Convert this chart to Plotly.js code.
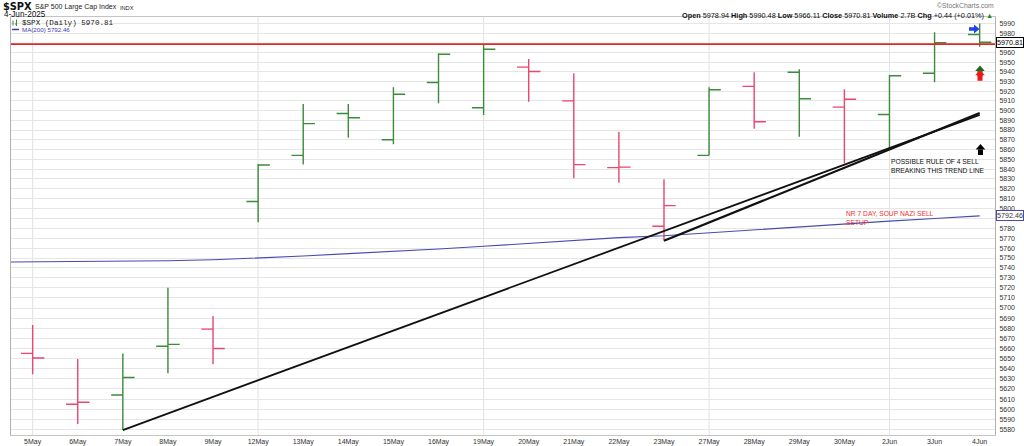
<!DOCTYPE html>
<html>
<head>
<meta charset="utf-8">
<script src="https://cdn.plot.ly/plotly-3.0.1.min.js"></script>
<style>html,body{margin:0;padding:0;background:#fff;}#chart{width:1024px;height:446px;}</style>
</head>
<body>
<div id="chart"></div>
<script>
// ---- data ----
const dates = ['5May','6May','7May','8May','9May','12May','13May','14May','15May','16May','19May','20May','21May','22May','23May','27May','28May','29May','30May','2Jun','3Jun','4Jun'];
const open  = [5655, 5605, 5614, 5662, 5679, 5807, 5854, 5897, 5870, 5929, 5903, 5945, 5910, 5841.5, 5782, 5854, 5925, 5939.6, 5903.6, 5896, 5938.6, 5978.94];
const high  = [5683, 5649.5, 5655, 5720.1, 5692, 5845.2, 5906.8, 5906.8, 5924.1, 5959.3, 5968.61, 5953.4, 5938.6, 5878.3, 5829.6, 5924.1, 5939.6, 5942.7, 5922, 5936.8, 5981.2, 5990.48];
const low   = [5634.4, 5585.7, 5579.8, 5635.4, 5644.2, 5786, 5844.8, 5872.1, 5865.4, 5907.5, 5895.5, 5909.2, 5830.6, 5826.1, 5767.4, 5854.1, 5881.4, 5873.2, 5846, 5861, 5929.2, 5966.11];
const close = [5650.38, 5606.91, 5631.28, 5663.94, 5659.91, 5844.19, 5886.55, 5892.58, 5916.93, 5958.38, 5963.6, 5940.46, 5844.61, 5842.01, 5802.82, 5921.54, 5888.55, 5912.17, 5911.69, 5935.94, 5970.37, 5970.81];
// MA(200): first value is the session before 5May (2May)
const maDates = ['2May'].concat(dates);
const ma200 = [5745.8, 5746.0, 5746.3, 5746.8, 5747.3, 5748.2, 5749.8, 5752.0, 5754.4, 5756.6, 5759.0, 5761.8, 5764.6, 5768.0, 5770.5, 5772.4, 5775.5, 5778.4, 5781.4, 5784.4, 5787.2, 5789.9, 5792.46];
const weekStarts = ['5May','12May','19May','27May','2Jun'];
const resistanceLevel = 5969;
const trendADates = ['7May','4Jun'], trendAValues = [5579.8, 5895.5];
const trendBDates = ['23May','4Jun'], trendBValues = [5767.4, 5897.5];
const yTicks = []; for (let v = 5580; v <= 5990; v += 10) yTicks.push(v);
const volumeText = '2.7B';

// ---- helpers ----
const xi = d => d === '2May' ? -1 : dates.indexOf(d);
const idx = dates.map((d, i) => i);
const last = dates.length - 1;
const up = close.map((c, i) => i === 0 ? c >= open[0] : c >= close[i - 1]);
const GREEN = '#3b8b3b', RED = '#e8476f';
function sub(arr, flag) { return arr.filter((_, i) => up[i] === flag); }
function ohlcTrace(flag, color) {
  return {
    type: 'ohlc', x: sub(idx, flag), open: sub(open, flag), high: sub(high, flag), low: sub(low, flag), close: sub(close, flag),
    increasing: {line: {color: color, width: 1.4}}, decreasing: {line: {color: color, width: 1.4}},
    tickwidth: 0.26, hoverinfo: 'skip', showlegend: false
  };
}
const traces = [
  {type: 'scatter', mode: 'lines', x: maDates.map(xi), y: ma200, line: {color: '#4a4aae', width: 1.1}, hoverinfo: 'skip'},
  ohlcTrace(true, GREEN),
  ohlcTrace(false, RED),
  {type: 'scatter', mode: 'lines', x: [-2, 23], y: [resistanceLevel, resistanceLevel], line: {color: '#e32626', width: 1.8}, hoverinfo: 'skip'},
  {type: 'scatter', mode: 'lines', x: trendADates.map(xi), y: trendAValues, line: {color: '#111', width: 1.8}, hoverinfo: 'skip'},
  {type: 'scatter', mode: 'lines', x: trendBDates.map(xi), y: trendBValues, line: {color: '#111', width: 2.2}, hoverinfo: 'skip'}
];

// pixel -> paper helpers for decorations
const PL = 11, PR = 995, PT = 17, PB = 435;
const px = x => (x - PL) / (PR - PL);
const py = y => (PB - y) / (PB - PT);
function path(pts, color) {
  return {type: 'path', xref: 'paper', yref: 'paper', layer: 'above',
    path: 'M ' + pts.map(p => px(p[0]).toFixed(5) + ',' + py(p[1]).toFixed(5)).join(' L ') + ' Z',
    fillcolor: color, line: {width: 0}};
}
function upArrow(cx, tipY, color, withShaft) {
  const s = [path([[cx, tipY], [cx + 4.8, tipY + 5.5], [cx - 4.8, tipY + 5.5]], color)];
  if (withShaft) s.push(path([[cx - 2.5, tipY + 5.4], [cx + 2.5, tipY + 5.4], [cx + 2.5, tipY + 11], [cx - 2.5, tipY + 11]], color));
  return s;
}
const shapes = [];
weekStarts.forEach(d => shapes.push({type: 'line', xref: 'x', yref: 'paper', x0: xi(d), x1: xi(d), y0: 0, y1: 1, line: {color: '#e2e2e2', width: 1}, layer: 'below'}));
// blue right arrow
shapes.push(path([[969, 27.3], [974, 27.3], [974, 24.5], [979.5, 29], [974, 33.5], [974, 30.7], [969, 30.7]], '#1f45e6'));
// green + red up arrows
upArrow(980, 65.5, '#1d6b1d', true).forEach(s => shapes.push(s));
upArrow(980, 69.8, '#f01818', true).forEach(s => shapes.push(s));
// black up arrow
upArrow(980.5, 144, '#000', true).forEach(s => shapes.push(s));
// legend glyphs
shapes.push({type: 'line', xref: 'paper', yref: 'paper', x0: px(12), x1: px(19), y0: py(29.5), y1: py(29.5), line: {color: '#3a3ab0', width: 1.5}});
shapes.push({type: 'line', xref: 'paper', yref: 'paper', x0: px(13), x1: px(13), y0: py(20.5), y1: py(25.5), line: {color: GREEN, width: 1}});
shapes.push({type: 'line', xref: 'paper', yref: 'paper', x0: px(16.5), x1: px(16.5), y0: py(19.5), y1: py(26), line: {color: GREEN, width: 1}});
shapes.push({type: 'line', xref: 'paper', yref: 'paper', x0: px(15), x1: px(16.5), y0: py(24), y1: py(24), line: {color: GREEN, width: 1}});

const F = 'Arial, Liberation Sans, sans-serif';
const chg = close[last] - close[last - 1];
const chgPct = chg / close[last - 1] * 100;
const ann = [];
function txt(x, y, text, size, color, anchor, extra) {
  ann.push(Object.assign({xref: 'paper', yref: 'paper', x: px(x), y: py(y), text: text, showarrow: false, align: 'left',
    xanchor: anchor || 'left', yanchor: 'middle', font: {family: F, size: size, color: color || '#000'}}, extra || {}));
}
txt(1, 6.5, '<b>$SPX</b>', 10, '#111', 'left', {font: {family: 'DejaVu Sans, sans-serif', size: 9.8, color: '#111'}});
txt(33, 7, 'S&amp;P 500 Large Cap Index', 7, '#222');
txt(118, 7.5, 'INDX', 5.6, '#222');
txt(2, 14.5, '4-Jun-2025', 8.2, '#111');
txt(20, 23, '$SPX (Daily) ' + close[last].toFixed(2), 7.4, '#222', 'left', {font: {family: 'Liberation Mono, DejaVu Sans Mono, monospace', size: 7.6, color: '#222'}});
txt(20, 29.5, 'MA(200) ' + ma200[ma200.length - 1].toFixed(2), 6.2, '#3a3ab0');
txt(996, 5.5, '©StockCharts.com', 6.8, '#777', 'right');
txt(995, 15, '<b>Open</b> ' + open[last].toFixed(2) + ' <b>High</b> ' + high[last].toFixed(2) + ' <b>Low</b> ' + low[last].toFixed(2) +
  ' <b>Close</b> ' + close[last].toFixed(2) + ' <b>Volume</b> ' + volumeText + ' <b>Chg</b> ' + (chg >= 0 ? '+' : '') + chg.toFixed(2) +
  ' (' + (chgPct >= 0 ? '+' : '') + chgPct.toFixed(2) + '%) <span style="color:#2a8a2a">▲</span>', 7.3, '#111', 'right');
// chart notes
txt(889, 166, 'POSSIBLE RULE OF 4 SELL<br>BREAKING THIS TREND LINE', 6.7, '#111');
txt(844, 217.5, 'NR 7 DAY, SOUP NAZI SELL<br>SETUP', 6.7, '#f03030');
// value boxes on the right axis
ann.push({xref: 'paper', yref: 'y', x: 1, y: Math.log10(close[last]), xanchor: 'left', yanchor: 'middle', xshift: 1,
  text: close[last].toFixed(2), showarrow: false, bgcolor: '#fff', bordercolor: '#000', borderwidth: 1, borderpad: 0,
  font: {family: F, size: 7.2, color: '#000'}});
ann.push({xref: 'paper', yref: 'y', x: 1, y: Math.log10(ma200[ma200.length - 1]), xanchor: 'left', yanchor: 'middle', xshift: 1,
  text: ma200[ma200.length - 1].toFixed(2), showarrow: false, bgcolor: '#fff', bordercolor: '#4a4aae', borderwidth: 1, borderpad: 0,
  font: {family: F, size: 7.2, color: '#333'}});

const hidden = [Math.round(close[last] / 10) * 10, Math.round(ma200[ma200.length - 1] / 10) * 10];
const layout = {
  width: 1024, height: 446,
  margin: {l: PL, r: 1024 - PR, t: PT, b: 446 - PB, pad: 0},
  paper_bgcolor: '#fff', plot_bgcolor: '#fff', showlegend: false,
  xaxis: {range: [-0.48, 21.34], tickvals: idx, ticktext: dates, showgrid: false, zeroline: false,
    showline: true, linecolor: '#c4c4c4', linewidth: 1, mirror: true, ticks: '', ticklabelstandoff: 0,
    tickfont: {family: F, size: 7, color: '#333'}, rangeslider: {visible: false}, fixedrange: true},
  yaxis: {type: 'log', side: 'right', range: [3.746242, 3.777952], tickvals: yTicks,
    ticktext: yTicks.map(v => hidden.includes(v) ? '' : String(v)),
    showgrid: true, gridcolor: '#e6e6e6', gridwidth: 1, zeroline: false,
    showline: true, linecolor: '#b0b0b0', linewidth: 1, mirror: true, ticks: '', ticklabelstandoff: 2,
    tickfont: {family: F, size: 7, color: '#333'}, fixedrange: true},
  shapes: shapes, annotations: ann
};
Plotly.newPlot('chart', traces, layout, {displayModeBar: false, staticPlot: true});
</script>
</body>
</html>
